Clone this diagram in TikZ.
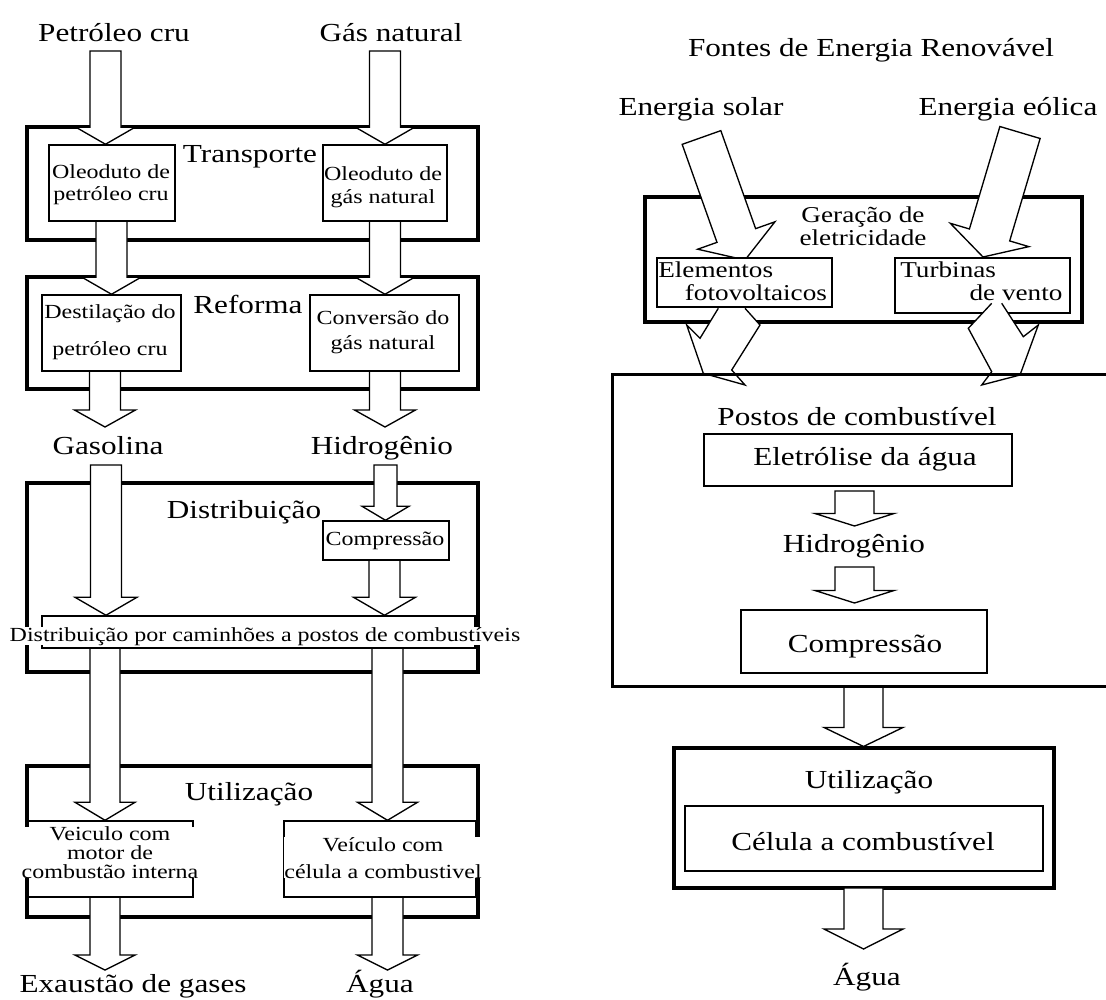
\documentclass[tikz,border=0pt]{standalone}
\usepackage{fontspec}
\setmainfont{Liberation Serif}[FakeStretch=1.2]
\usetikzlibrary{calc,fit}
\pgfdeclarelayer{bg}
\pgfdeclarelayer{arr}
\pgfsetlayers{bg,arr,main}
\newcommand\fbig{\fontsize{19.5pt}{23pt}\selectfont}
\newcommand\fsmall{\fontsize{15pt}{17pt}\selectfont}
\newcommand\fmid{\fontsize{17pt}{17.25pt}\selectfont}
\newcommand\barrow[5]{%
  \pgfmathsetlengthmacro{\bsw}{#3*0.75pt}%
  \pgfmathsetlengthmacro{\bhw}{#4*0.75pt}%
  \pgfmathsetlengthmacro{\bhl}{#5*0.75pt}%
  \path ($(#2)!\bhl!(#1)$) coordinate (bh);
  \draw[blockarrow] ($(#1)!\bsw!90:(#2)$) -- ($(bh)!\bsw!-90:(#1)$) -- ($(bh)!\bhw!-90:(#1)$) -- (#2) -- ($(bh)!\bhw!90:(#1)$) -- ($(bh)!\bsw!90:(#1)$) -- ($(#1)!\bsw!-90:(#2)$) -- cycle;
}
\begin{document}
\begin{tikzpicture}[x=0.75pt,y=-0.75pt,
  obox/.style={draw, line width=2.3pt, inner sep=0pt},
  ibox/.style={draw, line width=1.1pt, fill=white, inner sep=0pt},
  lbl/.style={inner sep=0pt, anchor=base},
  blockarrow/.style={draw, fill=white, line width=1pt, line join=miter},
  freearrow/.style={draw, line width=1pt, line join=miter},
  thickline/.style={draw, line width=2.3pt}]
\useasboundingbox (0,0) rectangle (1106,999);

% ---------- outer boxes ----------
\begin{pgfonlayer}{bg}
\node[obox, fit={(27,127)(478,240)}] (trans) {};
\node[obox, fit={(27,277)(478,389)}] (refo) {};
\node[obox, fit={(27,483)(478,672)}] (dist) {};
\node[obox, fit={(27,766)(478,917)}] (util) {};
\node[obox, fit={(645,197)(1082,322)}] (gera) {};
\node[obox, fit={(674,748)(1054,888)}] (util2) {};
\end{pgfonlayer}

% ---------- inner boxes ----------
\node[ibox, fit={(49,145)(175,221)}] (ol1) {};
\node[ibox, fit={(323,145)(447,221)}] (ol2) {};
\node[ibox, fit={(42,295)(181,371)}] (dest) {};
\node[ibox, fit={(310,295)(459,371)}] (conv) {};
\node[ibox, fit={(323,521)(449,560)}] (comp1) {};
\node[ibox, fit={(42,616)(475,648)}] (truck) {};
\node[ibox, fit={(28,821)(193,897)}] (vei1) {};
\node[ibox, fit={(284,821)(476,897)}] (vei2) {};
\node[ibox, fit={(657,258)(832,307)}] (elem) {};
\node[ibox, fit={(895,258)(1070,313)}] (turb) {};
\node[ibox, fit={(704,434)(1012,486)}] (eletr) {};
\node[ibox, fit={(741,610)(987,673)}] (comp2) {};
\node[ibox, fit={(685,806)(1043,871)}] (cel) {};

% ---------- left texts ----------
\node[lbl, font=\fbig] (pet) at (114,42) {Petróleo cru};
\node[lbl, font=\fbig] (gas) at (391,42) {Gás natural};
\node[lbl, font=\fbig] (ltrans) at (250,162) {Transporte};
\node[lbl, font={\fontsize{15pt}{16.5pt}\selectfont}, align=center] (tol1) at (111,200) {Oleoduto de\\petróleo cru};
\node[lbl, font={\fontsize{15pt}{17.25pt}\selectfont}, align=center] (tol2) at (383,203) {Oleoduto de\\gás natural};
\node[lbl, font=\fbig] (lrefo) at (248,313) {Reforma};
\node[lbl, font={\fontsize{15pt}{27.75pt}\selectfont}, align=center] (tdest) at (110,355) {Destilação do\\petróleo cru};
\node[lbl, font={\fontsize{15pt}{18.75pt}\selectfont}, align=center] (tconv) at (383,349) {Conversão do\\gás natural};
\node[lbl, font=\fbig] (gasol) at (108,454) {Gasolina};
\node[lbl, font=\fbig] (hid1) at (382,454) {Hidrogênio};
\node[lbl, font=\fbig] (ldist) at (244,518) {Distribuição};
\node[lbl, font=\fsmall] (tcomp1) at (385,545) {Compressão};
\node[lbl, font=\fsmall, fill=white] (ttruck) at (265,641) {Distribuição por caminhões a postos de combustíveis};
\node[lbl, font=\fbig] (lutil) at (249,800) {Utilização};
\node[lbl, font={\fontsize{15pt}{13.9pt}\selectfont}, align=center, fill=white] (tvei1) at (110,878) {Veiculo com\\motor de\\combustão interna};
\node[lbl, font={\fontsize{15pt}{20.25pt}\selectfont}, align=center, fill=white] (tvei2) at (383,878) {Veículo com\\célula a combustivel};
\node[lbl, font=\fbig] (exa) at (133,992) {Exaustão de gases};
\node[lbl, font=\fbig] (agua1) at (380,992) {Água};

% ---------- right texts ----------
\node[lbl, font=\fbig] (fontes) at (871,57) {Fontes de Energia Renovável};
\node[lbl, font=\fbig] (sol) at (701,115) {Energia solar};
\node[lbl, font=\fbig] (eol) at (1008,115) {Energia eólica};
\node[lbl, font=\fmid, align=center] (lgera) at (863,245) {Geração de\\eletricidade};
\node[lbl, font=\fmid, align=left, anchor=base west] (telem) at (658,300) {Elementos\\\hspace*{20pt}fotovoltaicos};
\node[lbl, font=\fmid, align=left, anchor=base west] (tturb) at (900,300) {Turbinas\\\hspace*{52pt}de vento};
\node[lbl, font=\fbig] (lpostos) at (857,425) {Postos de combustível};
\node[lbl, font=\fbig] (teletr) at (865,465) {Eletrólise da água};
\node[lbl, font=\fbig] (hid2) at (854,552) {Hidrogênio};
\node[lbl, font=\fbig] (tcomp2) at (865,652) {Compressão};
\node[lbl, font=\fbig] (lutil2) at (869,788) {Utilização};
\node[lbl, font=\fbig] (tcel) at (863,850) {Célula a combustível};
\node[lbl, font=\fbig] (agua2) at (867,985) {Água};

% ---------- irregular arrows from generation ----------
\fill[white] (718.3,308.3) -- (700,338.3) -- (686.7,325) -- (703.3,373.3) -- (745,385) -- (731.7,370) -- (760,325) -- (745,308.3) -- cycle;
\draw[freearrow] (718.3,308.3) -- (700,338.3) -- (686.7,325) -- (703.3,373.3) -- (745,385) -- (731.7,370) -- (760,325) -- (745,308.3);
\fill[white] (991.7,303.3) -- (968.3,328.3) -- (991.7,371.7) -- (981.7,385) -- (1020,375) -- (1038.3,325) -- (1023.3,336.7) -- (1001.7,303.3) -- cycle;
\draw[freearrow] (991.7,303.3) -- (968.3,328.3) -- (991.7,371.7) -- (981.7,385) -- (1020,375) -- (1038.3,325) -- (1023.3,336.7) -- (1001.7,303.3);

% ---------- fuel station box (open to the right) ----------
\node[inner sep=0pt, fit={(613,375)(1106,686)}] (postos) {};
\draw[thickline] (postos.north east) -- (postos.north west) -- (postos.south west) -- (postos.south east);

% ---------- block arrows ----------
\begin{pgfonlayer}{arr}
\coordinate (a1s) at (105.5,51);  \coordinate (a1t) at (a1s |- ol1.north);
\coordinate (a2s) at (385,51);    \coordinate (a2t) at (a2s |- ol2.north);
\coordinate (a3s) at (111.5,221); \coordinate (a3t) at (a3s |- dest.north);
\coordinate (a4s) at (385,221);   \coordinate (a4t) at (a4s |- conv.north);
\coordinate (a5s) at (105,371);   \coordinate (a5t) at (105,427);
\coordinate (a6s) at (385,371);   \coordinate (a6t) at (385,427);
\coordinate (a7s) at (106,465);   \coordinate (a7t) at (a7s |- truck.north);
\coordinate (a8s) at (385.5,465); \coordinate (a8t) at (a8s |- comp1.north);
\coordinate (a9s) at (384.5,560); \coordinate (a9t) at (a9s |- truck.north);
\coordinate (a10s) at (105,648);  \coordinate (a10t) at (a10s |- vei1.north);
\coordinate (a11s) at (387.5,648);\coordinate (a11t) at (a11s |- vei2.north);
\coordinate (a12s) at (105,897);  \coordinate (a12t) at (105,970);
\coordinate (a13s) at (387.5,897);\coordinate (a13t) at (387.5,970);
\barrow{a1s}{a1t}{15.5}{29.5}{17}
\barrow{a2s}{a2t}{15.5}{29.5}{17}
\barrow{a3s}{a3t}{15.5}{29.5}{17}
\barrow{a4s}{a4t}{15.5}{29.5}{17}
\barrow{a5s}{a5t}{15.5}{30.5}{17}
\barrow{a6s}{a6t}{15.5}{30.5}{17}
\barrow{a7s}{a7t}{15.5}{31}{18}
\barrow{a8s}{a8t}{11.5}{23.5}{14}
\barrow{a9s}{a9t}{15.5}{31}{18}
\barrow{a10s}{a10t}{15}{30}{18}
\barrow{a11s}{a11t}{15.5}{30}{18}
\barrow{a12s}{a12t}{15}{30}{15}
\barrow{a13s}{a13t}{15.5}{30}{15}
% right side
\coordinate (sols) at (701.5,137.5); \coordinate (solt) at (745,260);
\coordinate (eols) at (1020,132.5);  \coordinate (eolt) at (983,257);
\coordinate (r1s) at (854.5,491);    \coordinate (r1t) at (854.5,526);
\coordinate (r2s) at (854.5,567);    \coordinate (r2t) at (854.5,603);
\coordinate (r3s) at (863.5,686);    \coordinate (r3t) at (r3s |- util2.north);
\coordinate (r4s) at (863.5,888);    \coordinate (r4t) at (863.5,949);
\barrow{sols}{solt}{20.5}{41}{26}
\barrow{eols}{eolt}{21}{41}{23}
\barrow{r1s}{r1t}{19.5}{39.5}{12.5}
\barrow{r2s}{r2t}{19.5}{39.5}{12.5}
\barrow{r3s}{r3t}{19.5}{39.5}{19}
\barrow{r4s}{r4t}{19.5}{39.5}{20}
\end{pgfonlayer}
\end{tikzpicture}
\end{document}
